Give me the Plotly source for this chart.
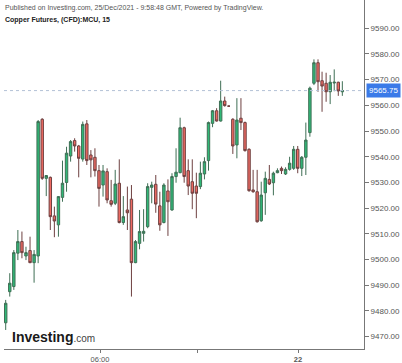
import plotly.graph_objects as go

open_ = [9475.4, 9487.5, 9489.5, 9502.5, 9507.0, 9501.4, 9503.5, 9498.8, 9501.4, 9554.6,
         9531.6, 9532.0, 9517.0, 9513.5, 9524.2, 9530.0, 9540.3, 9546.3, 9544.2, 9539.1,
         9552.8, 9540.7, 9539.8, 9534.6, 9529.0, 9534.2, 9522.9, 9521.9, 9529.7, 9514.4,
         9519.3, 9523.5, 9498.8, 9506.3, 9510.2, 9512.8, 9528.1, 9529.3, 9520.9, 9514.4,
         9526.7, 9519.3, 9532.3, 9533.8, 9551.3, 9534.6, 9530.3, 9528.6, 9528.4, 9533.3,
         9538.5, 9553.0, 9557.9, 9553.9, 9561.7, 9559.7, 9554.6, 9544.6, 9555.0, 9553.3,
         9542.9, 9527.1, 9526.4, 9515.1, 9526.0, 9531.2, 9529.9, 9533.8, 9535.5, 9533.3,
         9535.1, 9535.5, 9542.9, 9535.5, 9539.8, 9549.4, 9568.6, 9576.6, 9569.6, 9568.6,
         9565.3, 9568.7, 9569.0, 9565.3]
high = [9484.3, 9494.7, 9503.7, 9511.5, 9510.9, 9505.0, 9508.9, 9503.7, 9554.3, 9555.0,
        9532.9, 9532.3, 9520.6, 9524.7, 9538.5, 9543.9, 9546.5, 9547.2, 9544.6, 9553.7,
        9554.3, 9542.6, 9543.3, 9536.8, 9536.8, 9535.5, 9531.0, 9534.9, 9539.0, 9524.7,
        9528.4, 9529.0, 9507.6, 9519.3, 9519.6, 9529.7, 9530.3, 9532.9, 9526.4, 9529.7,
        9531.2, 9533.6, 9543.3, 9555.2, 9551.7, 9539.0, 9539.0, 9533.8, 9538.1, 9539.8,
        9553.7, 9558.2, 9558.9, 9569.6, 9563.4, 9559.9, 9555.0, 9562.8, 9562.8, 9553.7,
        9543.3, 9534.9, 9534.9, 9530.3, 9534.2, 9536.8, 9534.2, 9535.5, 9536.2, 9535.9,
        9540.0, 9544.2, 9544.2, 9540.3, 9553.3, 9567.3, 9577.9, 9577.9, 9573.1, 9572.7,
        9571.8, 9574.0, 9569.2, 9569.4]
low = [9472.6, 9485.6, 9488.2, 9499.8, 9500.5, 9499.8, 9498.6, 9491.0, 9498.6, 9531.0,
       9524.7, 9511.5, 9508.7, 9508.9, 9522.5, 9526.4, 9538.1, 9542.0, 9532.0, 9538.1,
       9536.8, 9532.0, 9532.3, 9520.6, 9524.5, 9521.9, 9520.6, 9521.2, 9514.1, 9513.5,
       9511.5, 9485.6, 9498.6, 9504.0, 9507.0, 9512.2, 9521.9, 9518.2, 9511.2, 9514.1,
       9509.2, 9519.0, 9529.9, 9533.6, 9529.9, 9525.1, 9519.6, 9516.1, 9527.4, 9531.2,
       9534.6, 9551.5, 9553.7, 9553.7, 9559.5, 9559.5, 9541.1, 9539.4, 9550.4, 9542.0,
       9526.4, 9526.0, 9514.4, 9514.7, 9517.4, 9529.0, 9525.0, 9533.6, 9533.3, 9532.9,
       9534.6, 9534.9, 9533.6, 9532.5, 9532.9, 9547.8, 9567.9, 9565.3, 9557.5, 9561.4,
       9560.5, 9565.5, 9563.7, 9563.7]
close = [9483.0, 9490.8, 9502.7, 9507.0, 9502.7, 9502.7, 9498.8, 9502.0, 9553.7, 9531.6,
         9532.7, 9516.7, 9515.0, 9524.5, 9529.7, 9541.4, 9545.9, 9544.2, 9539.4, 9552.6,
         9538.5, 9538.8, 9534.6, 9527.7, 9534.5, 9523.2, 9521.5, 9529.4, 9514.4, 9516.7,
         9518.2, 9498.8, 9507.0, 9510.9, 9511.0, 9528.4, 9529.0, 9521.6, 9513.5, 9529.0,
         9522.5, 9532.3, 9534.0, 9551.3, 9532.3, 9528.6, 9525.8, 9525.8, 9533.6, 9538.1,
         9553.3, 9557.9, 9553.9, 9561.7, 9559.9, 9559.7, 9544.2, 9554.3, 9553.3, 9542.4,
         9526.8, 9526.4, 9514.7, 9525.1, 9531.6, 9529.4, 9533.6, 9534.6, 9534.6, 9535.1,
         9537.5, 9542.9, 9535.5, 9539.8, 9546.5, 9566.7, 9576.6, 9569.2, 9567.5, 9565.3,
         9569.0, 9569.0, 9565.6, 9565.75]
bar_index = list(range(len(close)))

last_price = 9565.75
y_tickvals = [9470, 9480, 9490, 9500, 9510, 9520, 9530, 9540, 9550, 9560, 9570, 9580, 9590]
y_ticktext = [f"{v:.2f}" for v in y_tickvals]
x_tickvals = [23.25, 47.3, 72.07]
x_ticktext = ["06:00", "", "<b>22</b>"]

title_line1 = "Published on Investing.com, 25/Dec/2021 - 9:58:48 GMT, Powered by TradingView."
title_line2 = "Copper Futures, (CFD):MCU, 15"

FONT = "Arial, 'Liberation Sans', sans-serif"

fig = go.Figure()
fig.add_trace(go.Candlestick(
    x=bar_index, open=open_, high=high, low=low, close=close,
    increasing=dict(fillcolor="#2fb877", line=dict(color="#3f6f55", width=1)),
    decreasing=dict(fillcolor="#ef6a62", line=dict(color="#6e4040", width=1)),
    whiskerwidth=0,
    showlegend=False, hoverinfo="skip",
))

fig.add_hline(y=last_price, line=dict(color="#b3c2d6", width=1, dash="dot"))

fig.add_annotation(
    x=1, xref="paper", y=last_price, yref="y", xanchor="left", yanchor="middle",
    xshift=2, text=f"{last_price:.2f}", showarrow=False,
    font=dict(family=FONT, size=8, color="white"),
    bgcolor="#3b7ae8", borderpad=2,
)
fig.add_annotation(
    x=0, xref="paper", y=1, yref="paper", xanchor="left", yanchor="top",
    xshift=-1, yshift=-2, text=title_line1, showarrow=False,
    font=dict(family=FONT, size=7, color="#555555"),
)
fig.add_annotation(
    x=0, xref="paper", y=1, yref="paper", xanchor="left", yanchor="top",
    xshift=-1, yshift=-14, text=f"<b>{title_line2}</b>", showarrow=False,
    font=dict(family=FONT, size=7, color="#222222"),
)
fig.add_annotation(
    x=0, xref="paper", y=0, yref="paper", xanchor="left", yanchor="bottom",
    xshift=6, yshift=2,
    text="<b>Investing</b><span style='font-size:10px;color:#444'>.com</span>",
    showarrow=False,
    font=dict(family=FONT, size=14, color="#1a1a1a"),
)

fig.update_layout(
    width=402, height=363,
    margin=dict(l=4, r=38, t=0, b=14),
    paper_bgcolor="white", plot_bgcolor="white",
    font=dict(family=FONT),
    boxgap=0.15,
    xaxis=dict(
        range=[-0.42, 88.34], rangeslider=dict(visible=False),
        showgrid=False, zeroline=False,
        showline=True, linecolor="#777777", linewidth=1,
        ticks="outside", ticklen=3, tickcolor="#777777",
        tickvals=x_tickvals, ticktext=x_ticktext,
        tickfont=dict(size=7.5, color="#555555"),
    ),
    yaxis=dict(
        range=[9465.2, 9601.0], side="right",
        showgrid=False, zeroline=False,
        showline=True, linecolor="#777777", linewidth=1,
        ticks="outside", ticklen=4, tickcolor="#777777",
        tickvals=y_tickvals, ticktext=y_ticktext,
        tickfont=dict(size=8, color="#555555"),
    ),
)

fig.write_html("out.html")
